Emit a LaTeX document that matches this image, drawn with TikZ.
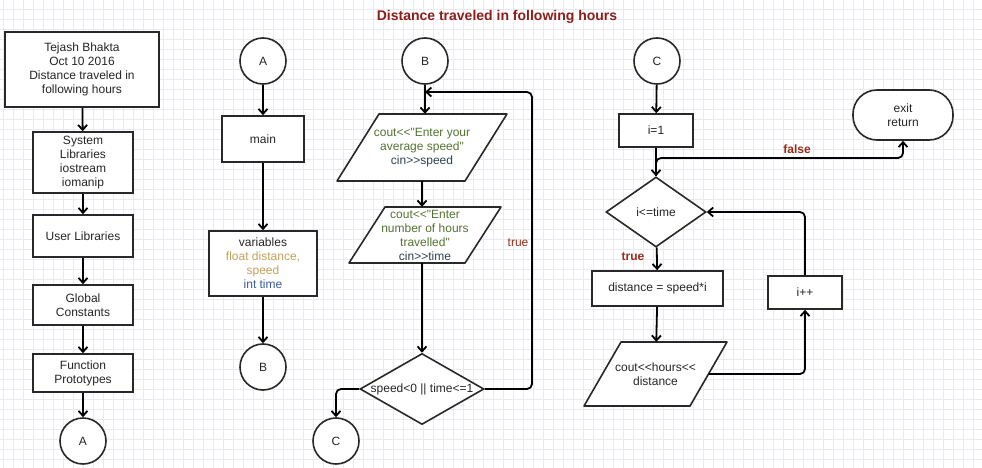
\documentclass[tikz,border=0pt]{standalone}
\usepackage{fontspec}
\setmainfont{Liberation Sans}[Ligatures=TeXOff]
\usetikzlibrary{arrows.meta,calc,shapes.geometric}

\definecolor{titlered}{RGB}{139,30,25}
\definecolor{labelred}{RGB}{150,45,25}
\definecolor{codegreen}{RGB}{85,115,50}
\definecolor{codeslate}{RGB}{45,65,85}
\definecolor{floattan}{RGB}{196,160,90}
\definecolor{intblue}{RGB}{60,90,160}
\definecolor{gridcol}{RGB}{233,233,242}
\definecolor{edgegray}{RGB}{40,40,40}

% parallelogram: name, x, y, width, height, slant, text
\newcommand{\paranode}[7]{%
    \filldraw[draw=edgegray, fill=white, line width=1.6pt, line join=round]
        (#2-#4/2+#6,#3-#5/2) -- (#2+#4/2,#3-#5/2) -- (#2+#4/2-#6,#3+#5/2) -- (#2-#4/2,#3+#5/2) -- cycle;
    \node[minimum width=#4pt, minimum height=#5pt, inner sep=0pt] (#1) at (#2,#3) {#7};}

\begin{document}
\begin{tikzpicture}[x=1pt, y=-1pt,
    every node/.style={font=\fontsize{12}{14}\selectfont, text=black!85, align=center},
    box/.style={draw=edgegray, line width=1.6pt, fill=white, inner sep=0pt},
    circ/.style={circle, draw=edgegray, line width=1.6pt, fill=white, minimum size=46pt, inner sep=0pt},
    dec/.style={diamond, draw=edgegray, line width=1.6pt, fill=white, inner sep=0pt},
    flow/.style={draw=black, line width=1.8pt, rounded corners=5pt, -{Straight Barb[length=5pt,width=9pt]}},
    lbl/.style={text=labelred, font=\fontsize{12}{14}\selectfont\bfseries}]

    \fill[white] (0,0) rectangle (982,468);
    \useasboundingbox (0,0) rectangle (982,468);
    \foreach \gx in {3,13,...,983}
        \draw[gridcol, line width=0.6pt] (\gx,0) -- (\gx,468);
    \foreach \gy in {9,19,...,469}
        \draw[gridcol, line width=0.6pt] (0,\gy) -- (982,\gy);

    \node[font=\fontsize{14}{16}\selectfont\bfseries, text=titlered] (title) at (497,17) {Distance traveled in following hours};

    \node[box, minimum width=154pt, minimum height=75pt] (head) at (82,69.5) {Tejash Bhakta\\Oct 10 2016\\Distance traveled in\\following hours};
    \node[box, minimum width=100pt, minimum height=61pt] (syslib) at (83,162.5) {System\\Libraries\\iostream\\iomanip};
    \node[box, minimum width=100pt, minimum height=42pt] (userlib) at (83,236) {User Libraries};
    \node[box, minimum width=100pt, minimum height=40pt] (global) at (83,305) {Global\\Constants};
    \node[box, minimum width=100pt, minimum height=38pt] (proto) at (83,373) {Function\\Prototypes};
    \node[circ] (endA) at (83,441) {A};

    \node[circ] (startA) at (263,61) {A};
    \node[box, minimum width=82pt, minimum height=46pt] (main) at (263,139) {main};
    \node[box, minimum width=108pt, minimum height=65pt] (vars) at (263,263.5) {variables\\\textcolor{floattan}{float distance,}\\\textcolor{floattan}{speed}\\\textcolor{intblue}{int time}};
    \node[circ] (endB) at (263,367) {B};

    \node[circ] (startB) at (425,61) {B};
    \paranode{askspeed}{422}{147.5}{170}{67}{42}{\textcolor{codegreen}{cout<<"Enter your}\\\textcolor{codegreen}{average speed"}\\\textcolor{codeslate}{cin>>speed}}
    \paranode{asktime}{425}{235}{152}{56}{36}{\textcolor{codegreen}{cout<<"Enter}\\\textcolor{codegreen}{number of hours}\\\textcolor{codegreen}{travelled"}\\\textcolor{codeslate}{cin>>time}}
    \node[dec, aspect=1.75, minimum width=124pt, minimum height=71pt] (check) at (422,389) {speed<0 || time<=1};
    \node[circ] (endC) at (336,441) {C};
    \coordinate (loopup) at (532,92);
    \coordinate (loopin) at (425,92);

    \node[circ] (startC) at (657,61) {C};
    \node[box, minimum width=74pt, minimum height=33pt] (init) at (656,130.5) {i=1};
    \node[box, rounded corners=24pt, minimum width=100pt, minimum height=50pt] (exit) at (903,115) {exit\\return};
    \node[dec, aspect=1.43, minimum width=100pt, minimum height=70pt] (cond) at (656,212) {i<=time};
    \node[box, minimum width=131pt, minimum height=35pt] (calc) at (657.5,288.5) {distance = speed*i};
    \paranode{show}{655.5}{374}{143}{64}{37}{cout<<hours<<\\distance}
    \node[box, minimum width=74pt, minimum height=33pt] (incr) at (805,292.5) {i++};
    \coordinate (falseup) at (656,158);
    \coordinate (showright) at (708.5,374);

    \draw[flow] (head) -- (syslib);
    \draw[flow] (syslib) -- (userlib);
    \draw[flow] (userlib) -- (global);
    \draw[flow] (global) -- (proto);
    \draw[flow] (proto) -- (endA);

    \draw[flow] (startA) -- (main);
    \draw[flow] (main) -- (vars);
    \draw[flow] (vars) -- (endB);

    \draw[flow] (startB) -- (startB |- askspeed.north);
    \draw[flow] (askspeed.south) -- (askspeed.south |- asktime.north);
    \draw[flow] (check |- asktime.south) -- (check);
    \draw[flow] (check.west) -| (endC);
    \draw[flow] (check.east) -| (loopup) -- (loopin);
    \node[text=labelred] (looptrue) at (518,243) {true};

    \draw[flow] (startC) -- (init);
    \draw[flow] (init) -- (cond);
    \draw[flow] (cond.north) -- (falseup) -| (exit.south);
    \node[lbl] (condfalse) at (797,149) {false};
    \draw[flow] (cond) -- (calc);
    \node[lbl] (condtrue) at (633,257) {true};
    \draw[flow] (calc) -- (show);
    \draw[flow] (showright) -| (incr);
    \draw[flow] (incr) |- (cond.east);
\end{tikzpicture}
\end{document}
